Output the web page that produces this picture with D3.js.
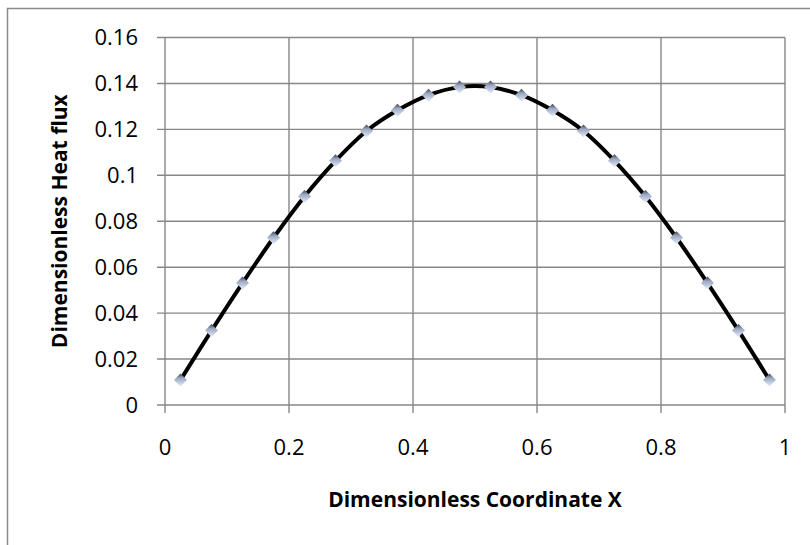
<!DOCTYPE html>
<html>
<head>
<meta charset="utf-8">
<script src="https://cdn.jsdelivr.net/npm/d3@7"></script>
<style>
  body { margin: 0; background: #fff; }
  text { font-family: "Open Sans", sans-serif; fill: #000; }
</style>
</head>
<body>
<div id="chart"></div>
<script>
let w = 810
let h = 545
let margin = {top: 37.5, right: 25, bottom: 140, left: 165}
let width = w - margin.left - margin.right
let height = h - margin.top - margin.bottom

// values
let xs = [0.025, 0.075, 0.125, 0.175, 0.225, 0.275, 0.325, 0.375, 0.425, 0.475,
          0.525, 0.575, 0.625, 0.675, 0.725, 0.775, 0.825, 0.875, 0.925, 0.975]
let flux = [0.0109, 0.0324, 0.0531, 0.0728, 0.0908, 0.1063, 0.1193, 0.1283, 0.1349, 0.1384,
            0.1384, 0.1349, 0.1283, 0.1193, 0.1063, 0.0908, 0.0728, 0.0531, 0.0324, 0.0109]
let xTicks = [0, 0.2, 0.4, 0.6, 0.8, 1]
let yTicks = [0, 0.02, 0.04, 0.06, 0.08, 0.1, 0.12, 0.14, 0.16]
let xLabel = "Dimensionless Coordinate X"
let yLabel = "Dimensionless Heat flux"

let dataset = xs.map((x, i) => ({x: x, y: flux[i]}))

let svg = d3.select("#chart")
  .append("svg")
  .attr("width", w)
  .attr("height", h)

// outer chart border (runs off the right/bottom edge)
svg.append("rect")
  .attr("x", 7.5).attr("y", 8.5)
  .attr("width", w).attr("height", h)
  .attr("fill", "none")
  .attr("stroke", "#8a8a8a")
  .attr("stroke-width", 1.5)

let grad = svg.append("defs").append("linearGradient")
  .attr("id", "mk").attr("x1", 0).attr("y1", 0).attr("x2", 0).attr("y2", 1)
grad.append("stop").attr("offset", "0%").attr("stop-color", "#3a404c")
grad.append("stop").attr("offset", "35%").attr("stop-color", "#9aa7c0")
grad.append("stop").attr("offset", "100%").attr("stop-color", "#e6eefb")

let g = svg.append("g").attr("transform", `translate(${margin.left},${margin.top})`)

let x = d3.scaleLinear().domain([0, 1]).range([0, width])
let y = d3.scaleLinear().domain([0, 0.16]).range([height, 0])

let gridColor = "#878787"

// gridlines
g.append("g").selectAll("line")
  .data(yTicks)
  .join("line")
  .attr("x1", -8).attr("x2", width)
  .attr("y1", d => y(d)).attr("y2", d => y(d))
  .attr("stroke", gridColor).attr("stroke-width", 1.4)

g.append("g").selectAll("line")
  .data(xTicks)
  .join("line")
  .attr("x1", d => x(d)).attr("x2", d => x(d))
  .attr("y1", 0).attr("y2", height + 8)
  .attr("stroke", gridColor).attr("stroke-width", 1.4)

// tick labels
g.append("g").selectAll("text")
  .data(yTicks)
  .join("text")
  .attr("x", -27)
  .attr("y", d => y(d))
  .attr("dy", "0.35em")
  .attr("text-anchor", "end")
  .style("font-size", "22px")
  .text(d => d3.format("")(d))

g.append("g").selectAll("text")
  .data(xTicks)
  .join("text")
  .attr("x", d => x(d))
  .attr("y", height + 50)
  .attr("text-anchor", "middle")
  .style("font-size", "22px")
  .text(d => d3.format("")(d))

// axis titles
g.append("text")
  .attr("x", width / 2)
  .attr("y", height + 102)
  .attr("text-anchor", "middle")
  .style("font-size", "21px")
  .style("font-weight", "bold")
  .text(xLabel)

g.append("text")
  .attr("transform", `translate(${67 - margin.left},${height / 2}) rotate(-90)`)
  .attr("text-anchor", "middle")
  .style("font-size", "21px")
  .style("font-weight", "bold")
  .text(yLabel)

// smoothed line
let line = d3.line()
  .x(d => x(d.x))
  .y(d => y(d.y))
  .curve(d3.curveCatmullRom)

g.append("path")
  .datum(dataset)
  .attr("fill", "none")
  .attr("stroke", "#000")
  .attr("stroke-width", 4)
  .attr("d", line)

// diamond markers
g.append("g").selectAll("path")
  .data(dataset)
  .join("path")
  .attr("transform", d => `translate(${x(d.x)},${y(d.y)})`)
  .attr("d", "M0,-6.5L6.5,0L0,6.5L-6.5,0Z")
  .attr("fill", "url(#mk)")
</script>
</body>
</html>
